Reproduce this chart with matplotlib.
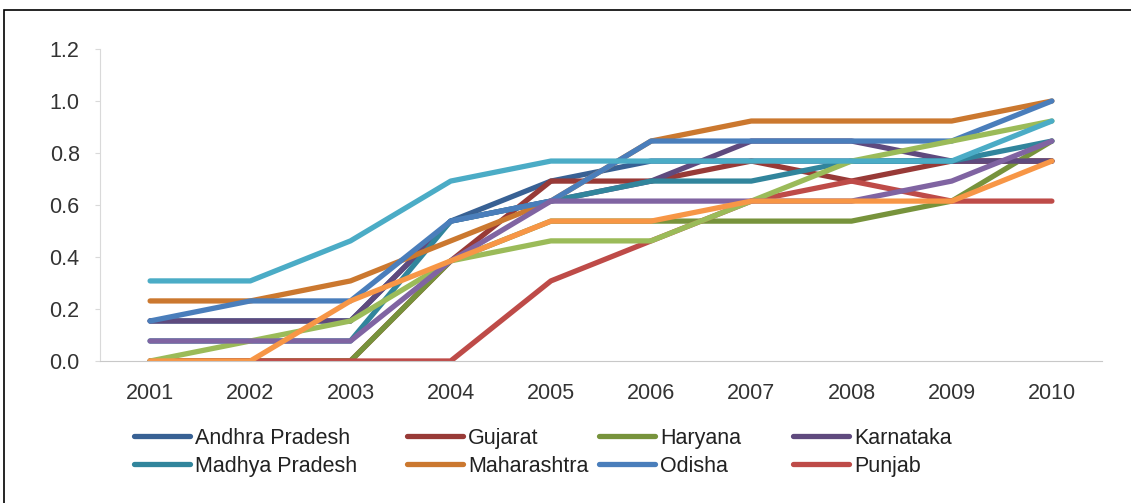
import matplotlib
matplotlib.use("Agg")
import matplotlib.pyplot as plt
from matplotlib.patches import Rectangle

plt.rcParams['font.family'] = ['Liberation Sans', 'DejaVu Sans']

# years on the x axis
years = [2001, 2002, 2003, 2004, 2005, 2006, 2007, 2008, 2009, 2010]

# series shown in the legend
states = ['Andhra Pradesh', 'Gujarat', 'Haryana', 'Karnataka',
          'Madhya Pradesh', 'Maharashtra', 'Odisha', 'Punjab']

andhra_pradesh = [0.154, 0.154, 0.154, 0.538, 0.692, 0.769, 0.769, 0.769, 0.769, 0.769]
gujarat = [0.0, 0.0, 0.0, 0.385, 0.692, 0.692, 0.769, 0.692, 0.769, 0.769]
haryana = [0.0, 0.0, 0.0, 0.385, 0.538, 0.538, 0.538, 0.538, 0.615, 0.846]
karnataka = [0.154, 0.154, 0.154, 0.538, 0.615, 0.692, 0.846, 0.846, 0.769, 0.769]
madhya_pradesh = [0.077, 0.077, 0.077, 0.538, 0.615, 0.692, 0.692, 0.769, 0.769, 0.846]
maharashtra = [0.231, 0.231, 0.308, 0.462, 0.615, 0.846, 0.923, 0.923, 0.923, 1.0]
odisha = [0.154, 0.231, 0.231, 0.538, 0.615, 0.846, 0.846, 0.846, 0.846, 1.0]
punjab = [0.0, 0.0, 0.0, 0.0, 0.308, 0.462, 0.615, 0.692, 0.615, 0.615]

# four more series drawn in the chart but cut off from the legend
extra_1 = [0.0, 0.077, 0.154, 0.385, 0.462, 0.462, 0.615, 0.769, 0.846, 0.923]
extra_2 = [0.077, 0.077, 0.077, 0.385, 0.615, 0.615, 0.615, 0.615, 0.692, 0.846]
extra_3 = [0.308, 0.308, 0.462, 0.692, 0.769, 0.769, 0.769, 0.769, 0.769, 0.923]
extra_4 = [0.0, 0.0, 0.231, 0.385, 0.538, 0.538, 0.615, 0.615, 0.615, 0.769]

series = [andhra_pradesh, gujarat, haryana, karnataka, madhya_pradesh,
          maharashtra, odisha, punjab, extra_1, extra_2, extra_3, extra_4]
colors = ['#386194', '#983A37', '#77933C', '#5F4A7E', '#31859C', '#CB782F',
          '#4A7EBB', '#BE4B48', '#9BBB59', '#8064A2', '#4BACC6', '#F79646']

fig = plt.figure(figsize=(11.31, 5.03), dpi=100)
ax = fig.add_axes([100 / 1131, 142 / 503, 1002 / 1131, 312 / 503])

lines = []
for i, values in enumerate(series):
    ln, = ax.plot(years, values, color=colors[i], linewidth=3.8,
                  solid_capstyle='round', solid_joinstyle='round')
    lines.append(ln)

ax.set_xlim(2000.5, 2010.5)
ax.set_ylim(0, 1.2)
ax.set_xticks(years)
ax.set_xticklabels([str(y) for y in years])
ax.set_yticks([0.0, 0.2, 0.4, 0.6, 0.8, 1.0, 1.2])
ax.set_yticklabels(['0.0', '0.2', '0.4', '0.6', '0.8', '1.0', '1.2'])

ax.spines['top'].set_visible(False)
ax.spines['right'].set_visible(False)
ax.spines['left'].set_color('#D9D9D9')
ax.spines['bottom'].set_color('#C8C8C8')
ax.tick_params(axis='x', length=0, pad=16, labelsize=15.5, labelcolor='#333333')
ax.tick_params(axis='y', length=3.6, color='#D9D9D9', pad=11,
               labelsize=15.5, labelcolor='#333333')

# legend: four columns of two entries, placed by hand like the original
col_x = [134, 407, 599, 793]
for c in range(4):
    idx = [c, c + 4]
    leg = fig.legend([lines[k] for k in idx], [states[k] for k in idx],
                     loc='upper left',
                     bbox_to_anchor=(col_x[c] / 1131, (503 - 428) / 503),
                     frameon=False, fontsize=15.5, handlelength=2.6,
                     handletextpad=0.25, labelspacing=0.32, borderpad=0,
                     borderaxespad=0)
    for t in leg.get_texts():
        t.set_color('#222222')

# outer frame (top and left edges visible)
fig.patches.append(Rectangle((4 / 1131, -0.05), 1.1, (493 / 503) + 0.05,
                             transform=fig.transFigure, fill=False,
                             edgecolor='black', linewidth=1.2))

fig.savefig('out.png', dpi=100)
